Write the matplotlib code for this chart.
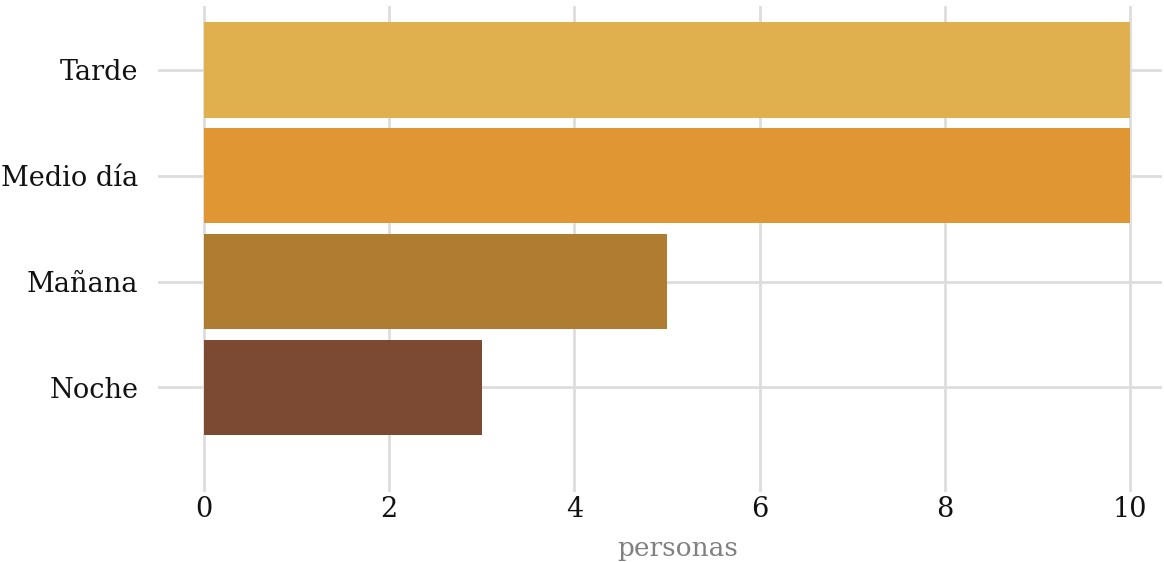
import matplotlib
matplotlib.use("Agg")
import matplotlib.pyplot as plt

categories = ["Noche", "Mañana", "Medio día", "Tarde"]
values = [3, 5, 10, 10]
colors = ["#7C4A32", "#AF7D32", "#E09733", "#E0B04E"]
xticks = [0, 2, 4, 6, 8, 10]

plt.rcParams['font.family'] = ['DejaVu Serif']

fig = plt.figure(figsize=(11.64, 5.62), dpi=100)
ax = fig.add_axes([158/1164, 1 - 492/562, 1004/1164, 486/562])

ypos = list(range(len(categories)))
ax.barh(ypos, values, height=0.9, color=colors, zorder=2)

ax.set_xlim(-0.497, 10.345)
ax.set_ylim(-0.99, 3.605)
ax.set_yticks(ypos)
ax.set_yticklabels(categories, fontsize=19.5, color="#111111")
ax.set_xticks(xticks)
ax.set_xticklabels([str(t) for t in xticks], fontsize=19.5, color="#111111")
ax.tick_params(axis='both', length=0)
ax.tick_params(axis='y', pad=14)
ax.tick_params(axis='x', pad=3)

ax.grid(True, color="#DDDDDD", linewidth=2, zorder=0)
ax.set_axisbelow(True)
for s in ax.spines.values():
    s.set_visible(False)

ax.set_xlabel("personas", fontsize=19, color="#808080")
ax.xaxis.set_label_coords(0.518, -0.09)

fig.savefig("out.png", dpi=100)
